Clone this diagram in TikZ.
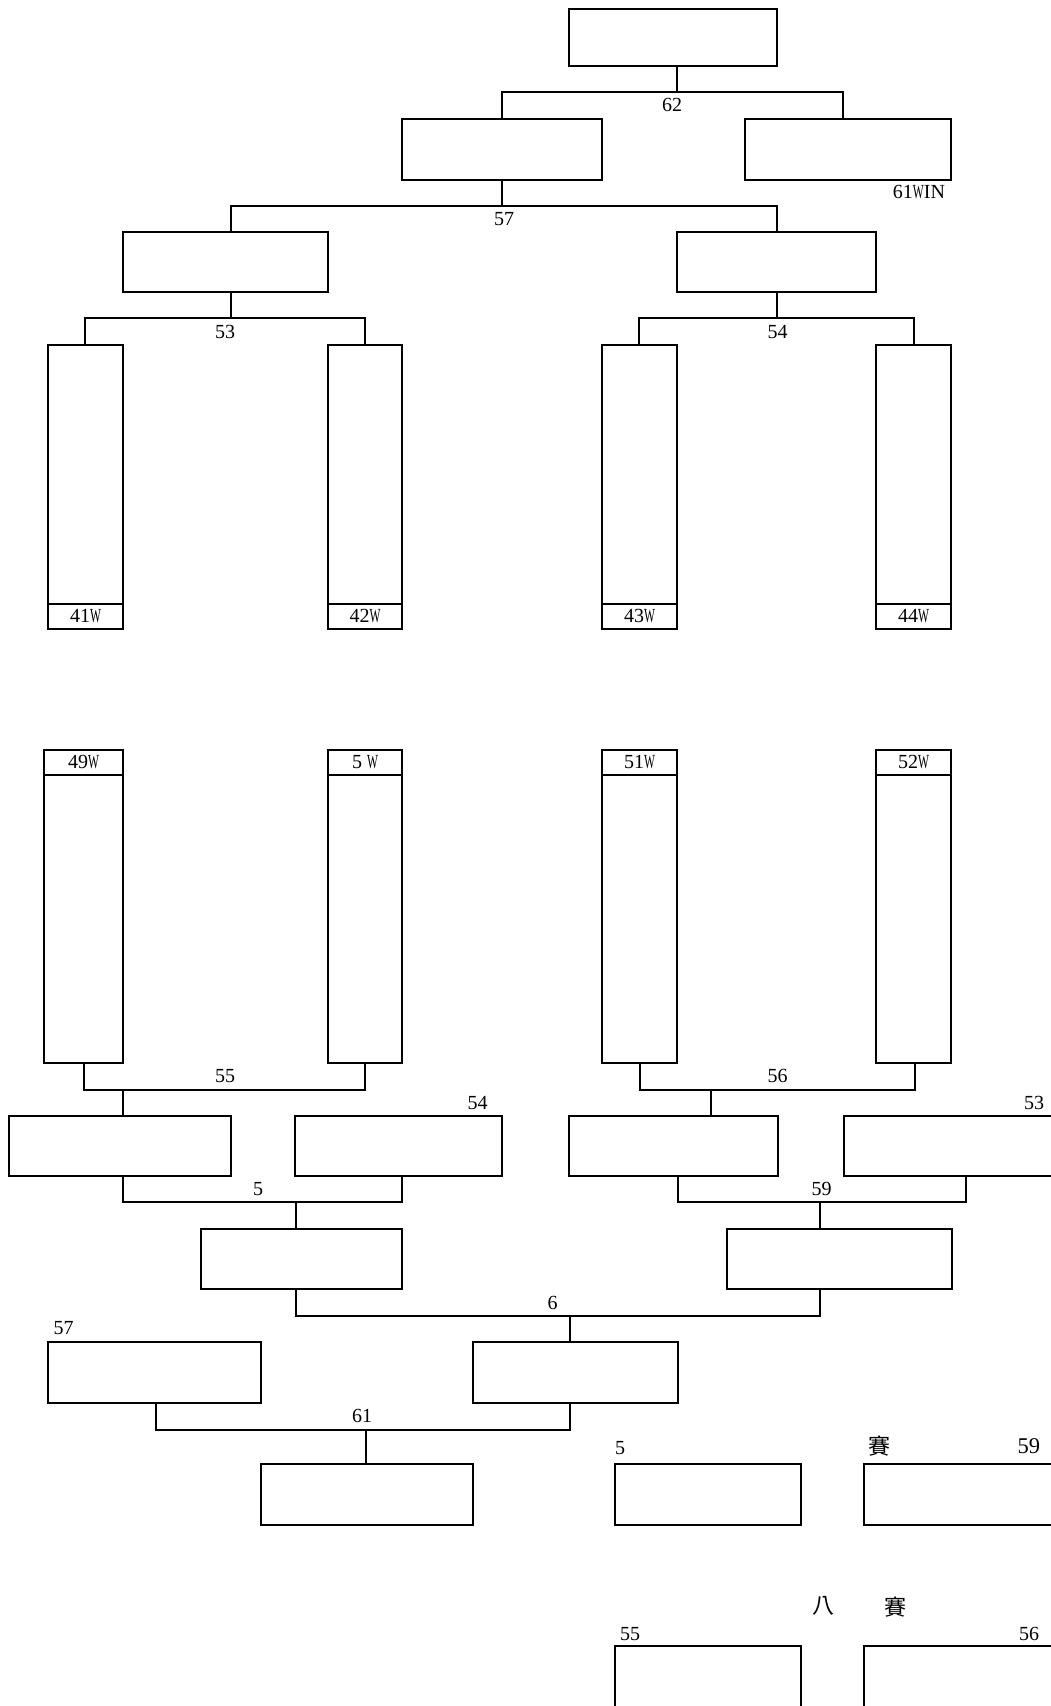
\documentclass[tikz,border=0pt]{standalone}
\usepackage{fontspec}
\setmainfont{Liberation Serif}
\newfontfamily\narrowfont[FakeStretch=0.58]{Liberation Serif}
\newfontfamily\cjkfont{Noto Sans CJK TC}
\newcommand\nW{{\narrowfont W}}
\tikzset{
  box/.style={draw, line width=2pt, inner sep=0pt, outer sep=0pt, font=\fontsize{20}{20}\selectfont},
  conn/.style={line width=2pt},
  lbl/.style={inner sep=0pt, outer sep=0pt, font=\fontsize{20}{20}\selectfont},
  biglbl/.style={inner sep=0pt, outer sep=0pt, font=\fontsize{22.5}{22.5}\selectfont},
  cjk/.style={inner sep=0pt, outer sep=0pt, font=\cjkfont\fontsize{22}{22}\selectfont},
}
% box: name, x1, y1, x2, y2, text
\newcommand\bx[6]{\node[box, minimum width={(#4-#2)*1pt}, minimum height={(#5-#3)*1pt}] (#1) at ({(#2+#4)/2},{(#3+#5)/2}) {#6};}
% bracket: name, y, left x, right x, mid x, child1 anchor, child2 anchor, parent anchor
\newcommand\brk[8]{%
  \coordinate (#1l) at (#3,#2);
  \coordinate (#1r) at (#4,#2);
  \coordinate (#1m) at (#5,#2);
  \draw[conn] (#6 -| #1l) -- (#1l) -- (#1r) -- (#7 -| #1r);
  \draw[conn] (#8 -| #1m) -- (#1m);}
\begin{document}
\begin{tikzpicture}[x=1pt, y=-1pt]
\useasboundingbox (0,0) rectangle (1051,1706);
\clip (0,0) rectangle (1051,1706);
% ---------- upper bracket ----------
\bx{A}{569}{9}{777}{66}{}
\bx{B}{402}{119}{602}{180}{}
\bx{C}{745}{119}{951}{180}{}
\bx{D}{123}{232}{328}{292}{}
\bx{E}{677}{232}{876}{292}{}
\bx{T1}{48}{345}{123}{604}{}
\bx{T1c}{48}{604}{123}{629}{41\nW}
\bx{T2}{328}{345}{402}{604}{}
\bx{T2c}{328}{604}{402}{629}{42\nW}
\bx{T3}{602}{345}{677}{604}{}
\bx{T3c}{602}{604}{677}{629}{43\nW}
\bx{T4}{876}{345}{951}{604}{}
\bx{T4c}{876}{604}{951}{629}{44\nW}
\brk{b62}{92}{502}{843}{677}{B.north}{C.north}{A.south}
\brk{b57}{206}{231}{777}{502}{D.north}{E.north}{B.south}
\brk{b53}{318}{85}{365}{231}{T1.north}{T2.north}{D.south}
\brk{b54}{318}{639}{914}{777}{T3.north}{T4.north}{E.south}
\node[lbl, anchor=base] (l62) at (672,111) {62};
\node[lbl, anchor=base east] (l61win) at (945,198) {61\nW IN};
\node[lbl, anchor=base] (l57a) at (504,225) {57};
\node[lbl, anchor=base] (l53a) at (225,338) {53};
\node[lbl, anchor=base] (l54a) at (777.5,338) {54};
% ---------- lower bracket ----------
\bx{U1c}{44}{750}{123}{775}{49\nW}
\bx{U1}{44}{775}{123}{1063}{}
\bx{U2c}{328}{750}{402}{775}{5 \nW}
\bx{U2}{328}{775}{402}{1063}{}
\bx{U3c}{602}{750}{677}{775}{51\nW}
\bx{U3}{602}{775}{677}{1063}{}
\bx{U4c}{876}{750}{951}{775}{52\nW}
\bx{U4}{876}{775}{951}{1063}{}
\bx{F}{9}{1116}{231}{1176}{}
\bx{G}{295}{1116}{502}{1176}{}
\bx{H}{569}{1116}{778}{1176}{}
\bx{I}{844}{1116}{1075}{1176}{}
\bx{J}{201}{1229}{402}{1289}{}
\bx{K}{727}{1229}{952}{1289}{}
\bx{L}{48}{1342}{261}{1403}{}
\bx{M}{473}{1342}{678}{1403}{}
\bx{N}{261}{1464}{473}{1525}{}
\bx{O}{615}{1464}{801}{1525}{}
\bx{P}{864}{1464}{1075}{1525}{}
\bx{Q}{615}{1646}{801}{1730}{}
\bx{R}{864}{1646}{1075}{1730}{}
\brk{b55}{1090}{84}{365}{123}{U1.south}{U2.south}{F.north}
\brk{b56}{1090}{640}{915}{711}{U3.south}{U4.south}{H.north}
\brk{b5}{1202}{123}{402}{296}{F.south}{G.south}{J.north}
\brk{b59}{1202}{678}{966}{820}{H.south}{I.south}{K.north}
\brk{b6}{1316}{296}{820}{570}{J.south}{K.south}{M.north}
\brk{b61}{1430}{156}{570}{366}{L.south}{M.south}{N.north}
\node[lbl, anchor=base] (l55) at (225,1082) {55};
\node[lbl, anchor=base] (l56) at (777.5,1082) {56};
\node[lbl, anchor=base] (l54b) at (477.5,1109) {54};
\node[lbl, anchor=base] (l53b) at (1034,1109) {53};
\node[lbl, anchor=base] (l5a) at (258,1195) {5};
\node[lbl, anchor=base] (l59a) at (821.5,1195) {59};
\node[lbl, anchor=base] (l6) at (552.7,1309) {6};
\node[lbl, anchor=base west] (l57b) at (53.7,1334.7) {57};
\node[lbl, anchor=base] (l61) at (362,1422) {61};
\node[lbl, anchor=base west] (l5b) at (615,1454) {5};
\node[cjk] (lsai1) at (879,1446) {賽};
\node[biglbl, anchor=base east] (l59b) at (1040,1453) {59};
\node[cjk] (lba) at (823,1606) {八};
\node[cjk] (lsai2) at (895,1607) {賽};
\node[lbl, anchor=base west] (l55b) at (620,1640) {55};
\node[lbl, anchor=base east] (l56b) at (1039,1640) {56};
\end{tikzpicture}
\end{document}
